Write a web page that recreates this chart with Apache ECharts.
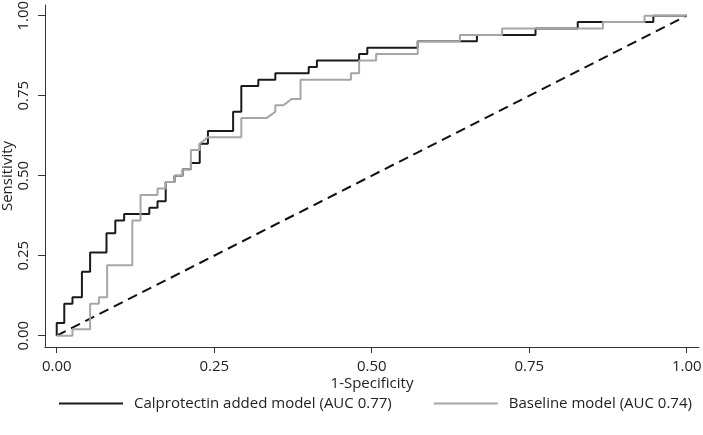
<!DOCTYPE html>
<html>
<head>
<meta charset="utf-8">
<script src="https://cdn.jsdelivr.net/npm/echarts@6/dist/echarts.min.js"></script>
<style>
html,body{margin:0;padding:0;background:#fff;}
#chart{width:703px;height:435px;}
</style>
</head>
<body>
<div id="chart"></div>
<script>
// Tick positions / labels
var tickValues = [0, 0.25, 0.5, 0.75, 1];
var xAxisTitle = '1-Specificity';
var yAxisTitle = 'Sensitivity';
var seriesNames = ['Calprotectin added model (AUC 0.77)', 'Baseline model (AUC 0.74)'];

// Calprotectin added model: ROC vertices
var calFpr = [0,0,0.012,0.012,0.025,0.025,0.040,0.040,0.053,0.053,0.079,0.079,0.093,0.093,0.107,0.107,0.147,0.147,0.160,0.160,0.173,0.173,0.187,0.187,0.200,0.200,0.213,0.213,0.227,0.227,0.240,0.240,0.280,0.280,0.293,0.293,0.320,0.320,0.347,0.347,0.400,0.400,0.413,0.413,0.480,0.480,0.493,0.493,0.573,0.573,0.667,0.667,0.760,0.760,0.827,0.827,0.947,0.947,1];
var calTpr = [0,0.04,0.04,0.10,0.10,0.12,0.12,0.20,0.20,0.26,0.26,0.32,0.32,0.36,0.36,0.38,0.38,0.40,0.40,0.42,0.42,0.48,0.48,0.50,0.50,0.52,0.52,0.54,0.54,0.60,0.60,0.64,0.64,0.70,0.70,0.78,0.78,0.80,0.80,0.82,0.82,0.84,0.84,0.86,0.86,0.88,0.88,0.90,0.90,0.92,0.92,0.94,0.94,0.96,0.96,0.98,0.98,1.00,1.00];

// Baseline model: ROC vertices
var baseFpr = [0,0.025,0.025,0.053,0.053,0.067,0.067,0.080,0.080,0.120,0.120,0.133,0.133,0.160,0.160,0.173,0.173,0.187,0.187,0.200,0.200,0.213,0.213,0.227,0.227,0.240,0.293,0.293,0.333,0.347,0.347,0.360,0.373,0.387,0.387,0.467,0.467,0.480,0.480,0.507,0.507,0.573,0.573,0.640,0.640,0.707,0.707,0.867,0.867,0.933,0.933,1];
var baseTpr = [0,0,0.02,0.02,0.10,0.10,0.12,0.12,0.22,0.22,0.36,0.36,0.44,0.44,0.46,0.46,0.48,0.48,0.50,0.50,0.52,0.52,0.58,0.58,0.60,0.62,0.62,0.68,0.68,0.70,0.72,0.72,0.74,0.74,0.80,0.80,0.82,0.82,0.86,0.86,0.88,0.88,0.92,0.92,0.94,0.94,0.96,0.96,0.98,0.98,1.00,1.00];

// Reference diagonal
var refFpr = [0, 1];
var refTpr = [0, 1];

function pairs(xs, ys){ return xs.map(function(x,i){ return [x, ys[i]]; }); }

var FONT = 'Open Sans';
var FS = 15;
var chart = echarts.init(document.getElementById('chart'), null, {renderer:'canvas'});
chart.setOption({
  animation: false,
  backgroundColor: '#fff',
  textStyle: {fontFamily: FONT},
  grid: {left: 45, right: 4, top: 5, bottom: 88, containLabel: false, outerBoundsMode: 'none'},
  legend: {
    data: [
      {name: seriesNames[0], icon: 'rect', itemStyle:{color:'#1a1a1a'}},
      {name: seriesNames[1], icon: 'rect', itemStyle:{color:'#a6a6a6'}}
    ],
    left: 54, top: 391,
    itemWidth: 64, itemHeight: 2, itemGap: 42,
    textStyle: {fontFamily: FONT, fontSize: FS, color: '#222', padding:[0,0,0,6]},
    selectedMode: false
  },
  xAxis: {
    type: 'value', min: -0.0186, max: 1.0195,
    name: xAxisTitle, nameLocation: 'middle', nameGap: 29, nameMoveOverlap: false,
    nameTextStyle: {fontFamily: FONT, fontSize: FS, color: '#222'},
    axisLine: {show: true, onZero: false, lineStyle: {color: '#333', width: 1}},
    axisTick: {show: true, length: 6, customValues: tickValues, lineStyle:{color:'#333'}},
    axisLabel: {customValues: tickValues, margin: 12, fontFamily: FONT, fontSize: FS, color: '#222',
      formatter: function(v){ return v.toFixed(2); }},
    splitLine: {show: false}
  },
  yAxis: {
    type: 'value', min: -0.0353, max: 1.0334,
    name: yAxisTitle, nameLocation: 'middle', nameGap: 30, nameMoveOverlap: false,
    nameTextStyle: {fontFamily: FONT, fontSize: FS, color: '#222'},
    axisLine: {show: true, onZero: false, lineStyle: {color: '#333', width: 1}},
    axisTick: {show: true, length: 7, customValues: tickValues, lineStyle:{color:'#333'}},
    axisLabel: {customValues: tickValues, rotate: 90, margin: 21, align: 'center', verticalAlign: 'middle',
      fontFamily: FONT, fontSize: FS, color: '#222',
      formatter: function(v){ return v.toFixed(2); }},
    splitLine: {show: false}
  },
  series: [
    {name: seriesNames[0], type: 'line', data: pairs(calFpr, calTpr), showSymbol: false, symbol:'none',
     lineStyle: {color: '#1a1a1a', width: 2}, itemStyle:{color:'#1a1a1a'}, z: 3},
    {name: seriesNames[1], type: 'line', data: pairs(baseFpr, baseTpr), showSymbol: false, symbol:'none',
     lineStyle: {color: '#a6a6a6', width: 2}, itemStyle:{color:'#a6a6a6'}, z: 4},
    {name: 'reference', type: 'line', data: pairs(refFpr, refTpr), showSymbol: false, symbol:'none',
     lineStyle: {color: '#111', width: 2, type: [10, 6]}, z: 2}
  ]
});
</script>
</body>
</html>
